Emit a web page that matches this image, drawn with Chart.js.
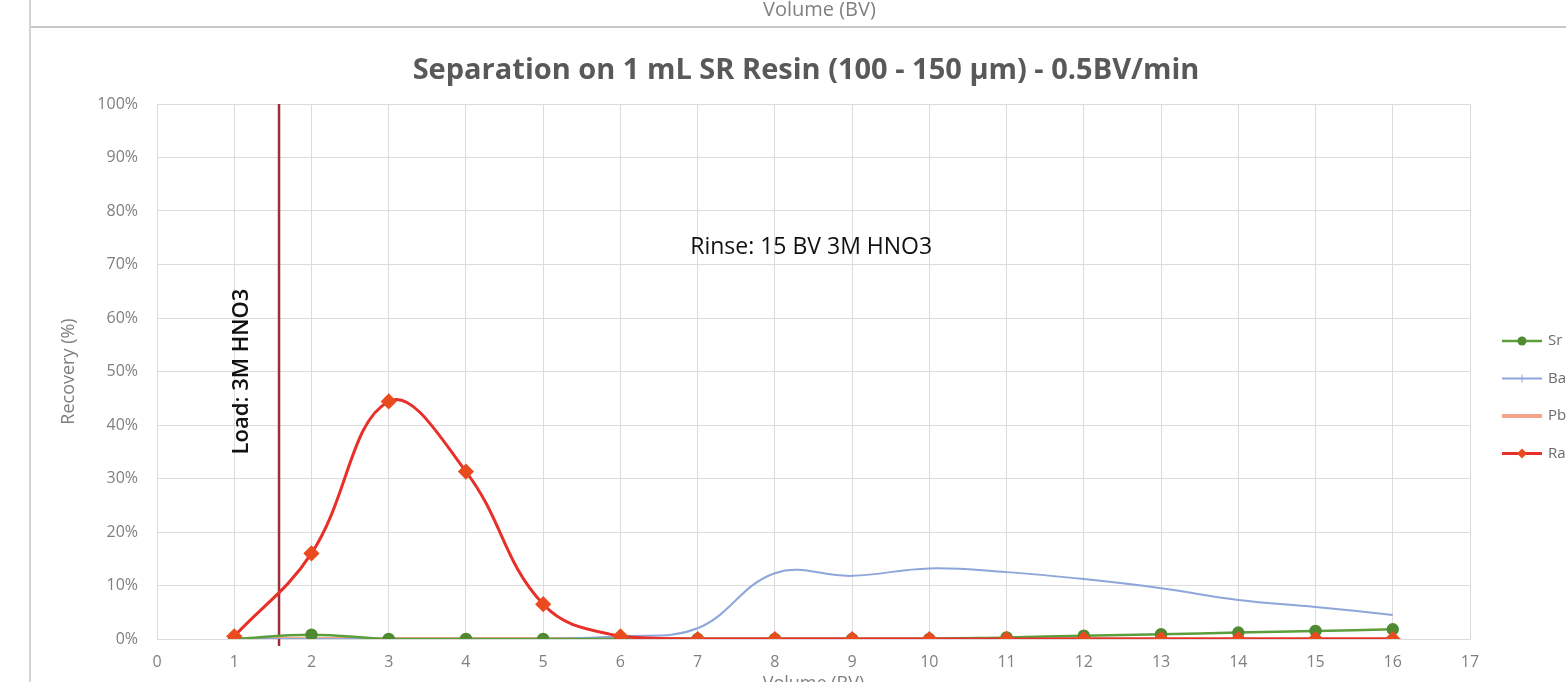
<!DOCTYPE html>
<html>
<head>
<meta charset="utf-8">
<title>Separation on 1 mL SR Resin</title>
<script src="https://cdn.jsdelivr.net/npm/chart.js@4.4.1/dist/chart.umd.min.js"></script>
<style>
    html, body { margin: 0; padding: 0; background: #fff; overflow: hidden; width: 1566px; height: 682px; }
    #wrap { position: absolute; left: 0; top: 0; width: 1600px; height: 700px; }
    #strip { position: absolute; left: 30px; top: 0; width: 1600px; height: 26px; border-bottom: 2px solid #c8c8c8; }
    #strip span { position: absolute; left: 733px; top: -5px; font: 20px 'Open Sans', sans-serif; color: #808080; }
    #edge { position: absolute; left: 29px; top: 0; width: 2px; height: 700px; background: #d4d4d4; }
</style>
</head>
<body>
<div id="wrap"><canvas id="chart"></canvas></div>
<div id="strip"><span>Volume (BV)</span></div>
<div id="edge"></div>
<script>
// Fraction eluted per bed volume, in percent
var volumes = [1, 2, 3, 4, 5, 6, 7, 8, 9, 10, 11, 12, 13, 14, 15, 16];
var srRecovery = [0, 0.8, 0, 0, 0, 0, 0, 0, 0, 0, 0.3, 0.6, 0.9, 1.2, 1.5, 1.8];
var baRecovery = [0, 0, 0, 0, 0, 0.5, 2, 12.3, 11.8, 13.2, 12.5, 11.2, 9.5, 7.3, 6.0, 4.5];
var pbRecovery = [0, 0, 0, 0, 0, 0, 0, 0, 0, 0, 0, 0, 0, 0, 0, 0];
var raRecovery = [0.5, 16, 44.4, 31.3, 6.5, 0.5, 0, 0, 0, 0, 0, 0, 0, 0, 0, 0];

var xTicks = [0, 1, 2, 3, 4, 5, 6, 7, 8, 9, 10, 11, 12, 13, 14, 15, 16, 17];
var yTicks = [0, 10, 20, 30, 40, 50, 60, 70, 80, 90, 100];

var chartTitle = 'Separation on 1 mL SR Resin (100 - 150 µm) - 0.5BV/min';
var loadVolume = 1.58;
var loadLabel = 'Load: 3M HNO3';
var rinseLabel = 'Rinse: 15 BV 3M HNO3';

function points(values) {
    return values.map(function (v, i) { return { x: volumes[i], y: v }; });
}

var gridColor = '#dcdcdc';
var labelColor = '#7f7f7f';

// Title, load marker, step labels and the legend next to the plot
var notes = {
    id: 'notes',
    beforeDatasetsDraw: function (chart) {
        var ctx = chart.ctx, a = chart.chartArea;
        var x = chart.scales.x.getPixelForValue(loadVolume);
        ctx.save();
        ctx.strokeStyle = '#9e2f38';
        ctx.lineWidth = 2.5;
        ctx.beginPath();
        ctx.moveTo(x, a.top);
        ctx.lineTo(x, a.bottom + 7);
        ctx.stroke();
        ctx.restore();
    },
    afterDatasetsDraw: function (chart) {
        var ctx = chart.ctx, a = chart.chartArea;
        var sx = chart.scales.x, sy = chart.scales.y;
        ctx.save();
        ctx.textAlign = 'center';
        ctx.textBaseline = 'middle';

        ctx.fillStyle = '#595959';
        ctx.font = '700 29px "Open Sans", sans-serif';
        ctx.fillText(chartTitle, 806, 71);

        ctx.fillStyle = '#111';
        ctx.font = '23px "Open Sans", sans-serif';
        ctx.fillText(rinseLabel, sx.getPixelForValue(8.47), sy.getPixelForValue(73.1));

        ctx.translate(sx.getPixelForValue(1.1), sy.getPixelForValue(50));
        ctx.rotate(-Math.PI / 2);
        ctx.font = '600 22px "Open Sans", sans-serif';
        ctx.fillText(loadLabel, 0, 0);
        ctx.restore();

        // legend
        ctx.save();
        ctx.font = '15px "Open Sans", sans-serif';
        ctx.textBaseline = 'middle';
        var lx = a.right + 32;
        chart.data.datasets.forEach(function (ds, i) {
            var y = a.top + 237 + i * 37.5;
            ctx.strokeStyle = ds.borderColor;
            ctx.lineWidth = ds.borderWidth;
            ctx.beginPath();
            ctx.moveTo(lx, y);
            ctx.lineTo(lx + 40, y);
            ctx.stroke();
            if (ds.pointRadius > 0) {
                ctx.fillStyle = ds.pointBackgroundColor;
                ctx.beginPath();
                if (ds.pointStyle === 'rectRot') {
                    ctx.moveTo(lx + 20, y - 5);
                    ctx.lineTo(lx + 25, y);
                    ctx.lineTo(lx + 20, y + 5);
                    ctx.lineTo(lx + 15, y);
                    ctx.closePath();
                } else {
                    ctx.arc(lx + 20, y, 4.5, 0, Math.PI * 2);
                }
                ctx.fill();
            } else if (ds.label === 'Ba') {
                ctx.beginPath();
                ctx.moveTo(lx + 20, y - 4);
                ctx.lineTo(lx + 20, y + 4);
                ctx.lineWidth = 1;
                ctx.stroke();
            }
            ctx.fillStyle = '#6b6b6b';
            ctx.fillText(ds.label, lx + 46, y);
        });
        ctx.restore();
    }
};

var config = {
    type: 'line',
    data: {
        datasets: [{
            label: 'Sr',
            data: points(srRecovery),
            borderColor: '#5d9e3c',
            borderWidth: 2.5,
            pointRadius: 5,
            pointHoverRadius: 5,
            pointBackgroundColor: '#4f8a31',
            pointBorderColor: '#4f8a31',
            tension: 0.4,
            order: 1
        }, {
            label: 'Ba',
            data: points(baRecovery),
            borderColor: '#8ea6da',
            borderWidth: 2,
            pointRadius: 0,
            tension: 0.4,
            order: 2
        }, {
            label: 'Pb',
            data: points(pbRecovery),
            borderColor: '#f6a48e',
            borderWidth: 4,
            pointRadius: 0,
            tension: 0.4,
            order: 3
        }, {
            label: 'Ra',
            data: points(raRecovery),
            borderColor: '#e8302a',
            borderWidth: 3,
            pointRadius: 6,
            pointHoverRadius: 6,
            pointStyle: 'rectRot',
            pointBackgroundColor: '#ea4b1f',
            pointBorderColor: '#ea4b1f',
            tension: 0.4,
            order: 0
        }]
    },
    options: {
        responsive: true,
        maintainAspectRatio: false,
        animation: false,
        layout: { padding: { left: 30, right: 130, top: 104, bottom: 0 } },
        plugins: {
            legend: { display: false },
            tooltip: { enabled: false }
        },
        scales: {
            x: {
                type: 'linear',
                min: 0,
                max: 17,
                afterBuildTicks: function (scale) {
                    scale.ticks = xTicks.map(function (v) { return { value: v }; });
                },
                afterFit: function (scale) { scale.height = 61; },
                grid: { color: gridColor, lineWidth: 1, drawTicks: false },
                border: { color: gridColor },
                ticks: {
                    padding: 14,
                    color: labelColor,
                    maxRotation: 0,
                    font: { family: 'Open Sans', size: 16 }
                },
                title: {
                    display: true,
                    text: 'Volume (BV)',
                    color: labelColor,
                    font: { family: 'Open Sans', size: 18 },
                    padding: { top: 0, bottom: 5 }
                }
            },
            y: {
                min: 0,
                max: 100,
                afterBuildTicks: function (scale) {
                    scale.ticks = yTicks.map(function (v) { return { value: v }; });
                },
                afterFit: function (scale) { scale.width = 127; },
                grid: { color: gridColor, lineWidth: 1, drawTicks: false },
                border: { color: gridColor },
                ticks: {
                    padding: 19,
                    color: labelColor,
                    font: { family: 'Open Sans', size: 16 },
                    callback: function (v) { return v + '%'; }
                },
                title: {
                    display: true,
                    text: 'Recovery (%)',
                    color: labelColor,
                    font: { family: 'Open Sans', size: 18 },
                    padding: { top: 28, bottom: 0 }
                }
            }
        }
    },
    plugins: [notes]
};

document.addEventListener('DOMContentLoaded', function () {
    var ctx = document.getElementById('chart').getContext('2d');
    new Chart(ctx, config);
});
</script>
</body>
</html>
